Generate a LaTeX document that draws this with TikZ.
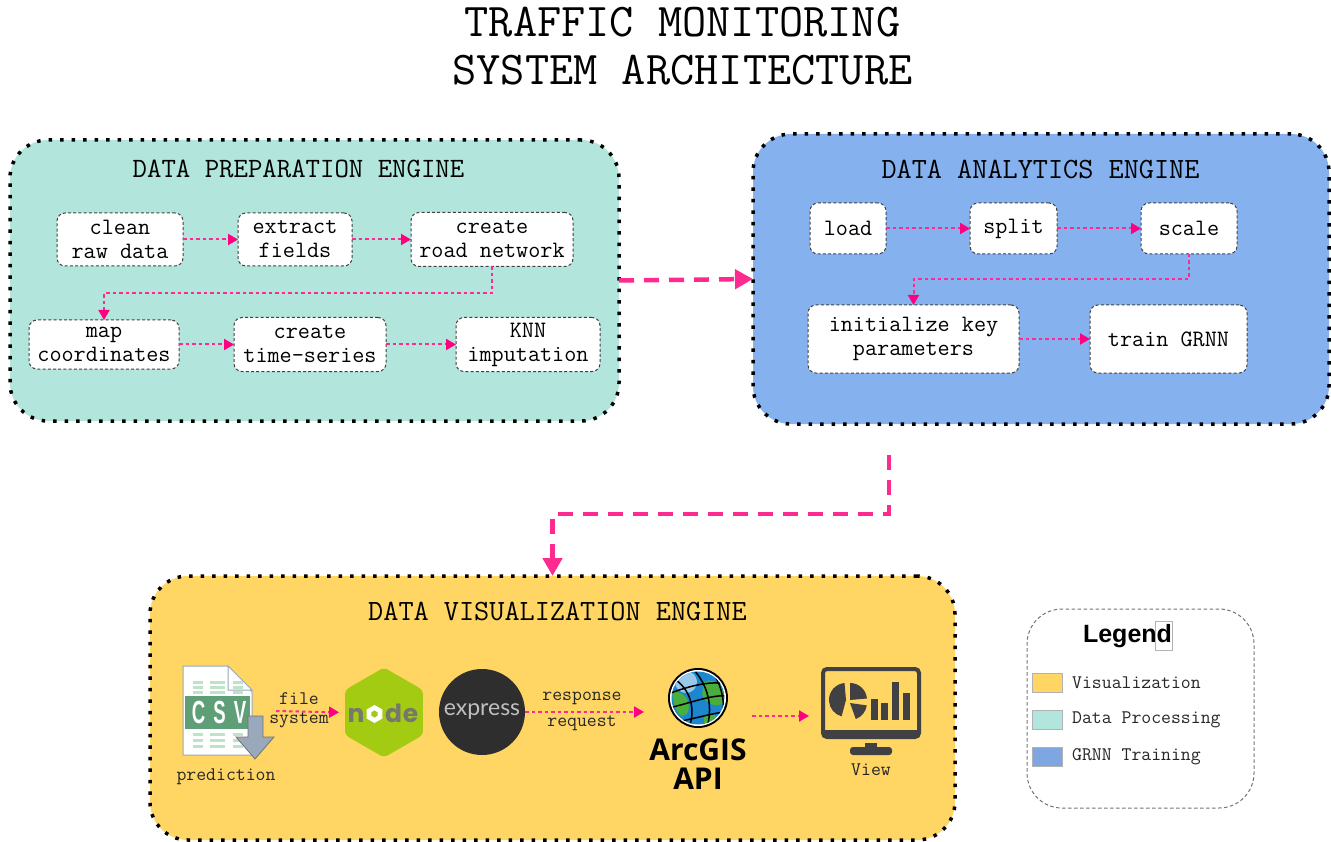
\documentclass[tikz,border=0pt]{standalone}
\usepackage{fontspec}
\setmainfont{Liberation Sans}
\newfontfamily\logofont{Poppins}
\newfontfamily\thinfont{Lato}
\newfontfamily\arcfont{Open Sans}
\usetikzlibrary{positioning,arrows.meta,shapes.geometric}
\definecolor{prepcol}{HTML}{B2E5DB}
\definecolor{analcol}{HTML}{85B1EF}
\definecolor{vizcol}{HTML}{FFD664}
\definecolor{swatchblue}{HTML}{7EA6E0}
\definecolor{linkcol}{HTML}{FF2A90}
\definecolor{tipcol}{HTML}{FF0080}
\definecolor{viewcol}{HTML}{414042}
\definecolor{csvgreen}{HTML}{5F9F77}
\definecolor{csvbar}{HTML}{BFE3C8}
\definecolor{csvline}{HTML}{9AA8BC}
\definecolor{nodegreen}{HTML}{A2CB12}
\definecolor{nodegrey}{HTML}{77786B}
\definecolor{globeblue}{HTML}{1C86CF}
\definecolor{globegreen}{HTML}{49AE3C}
\begin{document}
\begin{tikzpicture}[x=1pt,y=-1pt,
	enginebox/.style={draw=black,line width=3.5pt,dash pattern=on 3.5pt off 8pt,rounded corners=38pt,inner sep=0pt,outer sep=0pt},
	taskbox/.style={draw=black!75,fill=white,line width=1pt,dash pattern=on 3pt off 2.2pt,rounded corners=8pt,align=center,inner sep=0pt,outer sep=0pt,font=\ttfamily\fontsize{23.5}{24}\selectfont},
	enginetitle/.style={font=\ttfamily\fontsize{29.4}{32}\selectfont,text=black},
	titletext/.style={font=\ttfamily\fontsize{47}{50}\selectfont,text=black},
	smalltext/.style={font=\ttfamily\fontsize{19.2}{22}\selectfont,text=black!85},
	logotext/.style={font=\logofont\bfseries\fontsize{25}{28}\selectfont,text=nodegrey,anchor=base},
	iconbox/.style={inner sep=0pt,outer sep=0pt},
	swatch/.style={draw=black!30,line width=0.7pt,minimum width=30pt,minimum height=19pt,inner sep=0pt},
	thinlink/.style={linkcol,line width=2pt,dash pattern=on 3.5pt off 3pt,-{Triangle[length=10pt,width=11pt,color=tipcol]}},
	biglink/.style={linkcol,line width=4.5pt,dash pattern=on 15pt off 10pt,-{Triangle[length=18pt,width=19pt]}}]
	\useasboundingbox (0,0) rectangle (1331,842);

	\node[titletext] (title1) at (682.5,22) {TRAFFIC MONITORING};
	\node[titletext] (title2) at (682.5,70) {SYSTEM ARCHITECTURE};

	\node[enginebox,fill=prepcol,minimum width=609pt,minimum height=281pt] (prep) at (314.5,280.5) {};
	\node[enginebox,fill=analcol,minimum width=576pt,minimum height=290pt] (analytics) at (1041,279) {};
	\node[enginebox,fill=vizcol,minimum width=805pt,minimum height=264pt] (viz) at (552.5,708) {};
	\node[enginetitle,font=\ttfamily\fontsize{28}{30}\selectfont] (preptitle) at (298.5,169) {DATA PREPARATION ENGINE};
	\node[enginetitle] (analtitle) at (1040.5,169) {DATA ANALYTICS ENGINE};
	\node[enginetitle] (viztitle) at (557.5,611) {DATA VISUALIZATION ENGINE};

	\node[taskbox,minimum width=126pt,minimum height=53pt] (cleanraw) at (120,239.5) {clean\\raw data};
	\node[taskbox,minimum width=114pt,minimum height=53pt] (extract) [right = 55pt of cleanraw] {extract\\fields};
	\node[taskbox,minimum width=162pt,minimum height=54pt] (roadnet) [right = 59pt of extract] {create\\road network};
	\node[taskbox,minimum width=150pt,minimum height=49pt] (mapcoord) at (104,344.5) {map\\coordinates};
	\node[taskbox,minimum width=152pt,minimum height=54pt] (timeseries) [right = 55pt of mapcoord] {create\\time-series};
	\node[taskbox,minimum width=144pt,minimum height=54pt] (knn) [right = 70pt of timeseries] {KNN\\imputation};

	\node[taskbox,minimum width=76pt,minimum height=51pt] (load) at (848,228.5) {load};
	\node[taskbox,minimum width=87pt,minimum height=51pt] (split) [right = 84pt of load] {split};
	\node[taskbox,minimum width=96pt,minimum height=51pt] (scale) [right = 84pt of split] {scale};
	\node[taskbox,minimum width=211pt,minimum height=68pt] (initkey) at (913.5,339) {initialize key\\parameters};
	\node[taskbox,minimum width=157pt,minimum height=68pt] (traingrnn) [right = 71pt of initkey] {train GRNN};

	\draw[thinlink] (cleanraw.east) -- (extract.west);
	\draw[thinlink] (extract.east) -- (roadnet.west);
	\draw[thinlink] (roadnet.south) -- ++(0,27) -| (mapcoord.north);
	\draw[thinlink] (mapcoord.east) -- (timeseries.west);
	\draw[thinlink] (timeseries.east) -- (knn.west);
	\draw[thinlink] (load.east) -- (split.west);
	\draw[thinlink] (split.east) -- (scale.west);
	\draw[thinlink] (scale.south) -- ++(0,25) -| (initkey.north);
	\draw[thinlink] (initkey.east) -- (traingrnn.west);

	\coordinate (vizstart) at (889,455);
	\draw[biglink] (prep.east) -- (analytics.west);
	\draw[biglink] (vizstart) -- ++(0,59) -| (viz.north);

	\node[iconbox,minimum width=93pt,minimum height=90pt] (csvicon) at (229.5,711) {};
	\node[regular polygon,regular polygon sides=6,shape border rotate=30,fill=nodegreen,rounded corners=4pt,minimum size=90pt,inner sep=0pt,outer sep=0pt] (nodejs) at (384,712.5) {};
	\node[circle,fill=black!82,minimum size=86pt,inner sep=0pt,outer sep=0pt] (express) at (482,712) {};
	\node[circle,iconbox,minimum size=60pt] (arcgis) at (698,698) {};
	\node[iconbox,minimum width=100pt,minimum height=98pt] (viewicon) at (871,716) {};

	\draw[thinlink,shorten >=6pt] (csvicon.east) -- (nodejs.west);
	\draw[thinlink,shorten >=24pt] (express.east) -- (express.east -| arcgis.west);
	\draw[thinlink,shorten <=24pt,shorten >=12pt] (arcgis.east |- viewicon.west) -- (viewicon.west);

	\fill[white,draw=csvline,line width=1pt] (183,666) -- (228,666) -- (252,692) -- (252,755) -- (183,755) -- cycle;
	\fill[white,draw=csvline,line width=1pt] (228,666) -- (228,690) -- (252,690) -- cycle;
	\foreach \rowy in {681,686,691,733,739,745}
		\foreach \colx/\colw in {193/10,210/15,233/10}
			\fill[csvbar] (\colx,\rowy) rectangle ++(\colw,2.5);
	\fill[csvgreen] (185,696) rectangle (250,729);
	\node[font=\bfseries\fontsize{32}{34}\selectfont,text=white,xscale=0.58,transform shape] (csvtext) at (219,712.5) {C\kern14pt S\kern14pt V};
	\fill[csvline,draw=black!55,line width=0.8pt] (248,716) -- (263,716) -- (263,737) -- (274,737) -- (255,759) -- (236,737) -- (248,737) -- cycle;
	\node[smalltext] (prediction) at (226,777) {prediction};
	\node[smalltext] (filetext) at (299,699) {file};
	\node[smalltext] (systemtext) at (299,720) {system};

	\node[logotext] (logon) at (356,722) {n};
	\node[regular polygon,regular polygon sides=6,shape border rotate=30,fill=white,minimum size=18pt,inner sep=0pt] (logoo) at (374.5,714) {};
	\node[regular polygon,regular polygon sides=6,shape border rotate=30,fill=nodegreen,minimum size=7pt,inner sep=0pt] (logohole) at (374.5,714) {};
	\node[logotext] (logod) at (393.5,722) {d};
	\node[logotext] (logoe) at (410.5,722) {e};

	\node[font=\thinfont\fontsize{23}{26}\selectfont,text=black!25] (expresstext) at (482,712) {express};
	\node[smalltext] (responsetext) at (582,698) {response};
	\node[smalltext] (requesttext) at (582,723) {request};

	\fill[black] (arcgis.center) circle (30);
	\fill[white] (arcgis.center) circle (28);
	\begin{scope}
		\clip (arcgis.center) circle (26.5);
		\fill[globeblue] (arcgis.center) circle (27);
		\fill[white!55!globeblue] (686,682) circle (11);
		\fill[globegreen] (704,682) .. controls (716,676) and (728,690) .. (722,704) .. controls (714,708) and (704,702) .. (702,694) -- cycle;
		\fill[globegreen] (672,692) .. controls (682,690) and (692,700) .. (688,712) .. controls (682,722) and (674,712) .. (672,692) -- cycle;
		\fill[globegreen] (704,716) .. controls (712,712) and (720,714) .. (716,724) -- (704,730) -- cycle;
		\draw[black,line width=1.5pt] (676,680) .. controls (692,692) and (696,712) .. (688,730);
		\draw[black,line width=1.5pt] (692,668) .. controls (708,684) and (714,708) .. (706,730);
		\draw[black,line width=1.5pt] (710,668) .. controls (722,684) and (726,704) .. (722,720);
		\draw[black,line width=1.5pt] (668,694) .. controls (684,688) and (708,680) .. (726,684);
		\draw[black,line width=1.5pt] (668,708) .. controls (688,704) and (712,694) .. (728,696);
		\draw[black,line width=1.5pt] (674,722) .. controls (692,720) and (714,712) .. (728,712);
	\end{scope}
	\node[font=\arcfont\bfseries\fontsize{30}{32}\selectfont,text=black] (arctext) at (698,750) {ArcGIS};
	\node[font=\arcfont\bfseries\fontsize{30}{32}\selectfont,text=black] (apitext) at (698,779) {API};

	\draw[viewcol,line width=4pt,rounded corners=4pt] (823,669) rectangle (919,737);
	\fill[viewcol] (823,730) rectangle (919,737);
	\fill[viewcol] (844.5,683) arc[start angle=-95,end angle=-255,radius=17] -- (846,700) -- cycle;
	\fill[viewcol] (850,683) arc[start angle=-90,end angle=-5,radius=17] -- (850,700) -- cycle;
	\fill[viewcol] (866.8,705.4) arc[start angle=8,end angle=70,radius=17] -- (850,703) -- cycle;
	\foreach \barx/\barh in {871/21,881/17,892/38,903/27}
		\fill[viewcol] (\barx,720) rectangle ++(7,-\barh);
	\fill[viewcol] (865,743) rectangle (877,749);
	\fill[viewcol,rounded corners=3pt] (850,755) rectangle (892,747);
	\node[smalltext] (viewtext) at (871,770) {View};

	\node[draw=black!55,line width=1pt,dash pattern=on 3.5pt off 2.5pt,rounded corners=35pt,minimum width=227pt,minimum height=199pt,inner sep=0pt] (legendbox) at (1140.5,708.5) {};
	\node[font=\bfseries\fontsize{25}{28}\selectfont] (legendtext) at (1127.5,636) {Legend};
	\node[draw=black!30,line width=0.5pt,minimum width=17pt,minimum height=29pt,inner sep=0pt] (cursorbox) at (1163.5,635.5) {};
	\node[swatch,fill=vizcol] (swatchviz) at (1047,682.5) {};
	\node[swatch,fill=prepcol] (swatchprep) at (1047,719.5) {};
	\node[swatch,fill=swatchblue] (swatchgrnn) at (1047,756.5) {};
	\node[smalltext,anchor=west,inner sep=0pt] (legviz) at (1072,683) {Visualization};
	\node[smalltext,anchor=west,inner sep=0pt] (legprep) at (1072,720) {Data Processing};
	\node[smalltext,anchor=west,inner sep=0pt] (leggrnn) at (1072,757) {GRNN Training};
\end{tikzpicture}
\end{document}
